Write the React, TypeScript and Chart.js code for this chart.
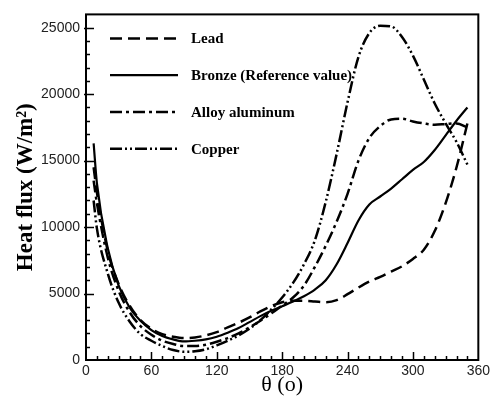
import React, { useEffect, useRef } from 'react';
import { Chart, registerables } from 'chart.js';

Chart.register(...registerables);

const theta = [7, 10, 20, 30, 40, 50, 60, 70, 80, 90, 100, 110, 120, 130, 140, 150, 160, 170, 180, 190, 200, 210, 220, 230, 240, 250, 260, 270, 280, 290, 300, 310, 320, 330, 340, 350];

const lead = [14500, 12600, 8200, 5700, 4100, 3000, 2350, 1950, 1750, 1650, 1700, 1850, 2100, 2450, 2800, 3200, 3650, 4050, 4350, 4450, 4450, 4400, 4350, 4500, 4950, 5450, 5900, 6250, 6650, 7050, 7600, 8300, 9700, 11800, 14500, 17800];

const bronze = [16300, 13300, 8400, 5600, 3950, 2950, 2250, 1800, 1550, 1400, 1450, 1550, 1750, 2050, 2400, 2850, 3300, 3700, 4050, 4400, 4800, 5300, 6000, 7200, 8800, 10500, 11700, 12300, 12900, 13600, 14300, 14900, 15800, 16900, 18000, 19000];

const alloy = [13500, 11800, 7700, 5200, 3600, 2550, 1900, 1450, 1200, 1050, 1050, 1150, 1370, 1650, 2000, 2450, 2950, 3500, 4100, 4700, 5600, 7000, 8600, 10400, 12500, 15000, 16700, 17600, 18100, 18150, 17950, 17800, 17700, 17750, 17800, 17500];

const copper = [12000, 9900, 6500, 4300, 2900, 1950, 1450, 1050, 750, 620, 650, 800, 1100, 1450, 1850, 2350, 3000, 3800, 4700, 5800, 7200, 9000, 11900, 15500, 19400, 22800, 24600, 25150, 25100, 24300, 22900, 21100, 19300, 17800, 16400, 14700];

const seriesLabels = ['Lead', 'Bronze (Reference value)', 'Alloy aluminum', 'Copper'];
const xLabelStep = 60;
const yLabelStep = 5000;

const toPoints = (ys: number[]) => ys.map((y, i) => ({ x: theta[i], y }));

const framePlugin = {
  id: 'frameTicks',
  afterDatasetsDraw(chart: any) {
    const { ctx, chartArea: a, scales } = chart;
    ctx.save();
    ctx.strokeStyle = '#000';
    ctx.lineWidth = 1.5;
    const xs = scales.x;
    xs.ticks.forEach((t: any) => {
      const v = t.value;
      if (v <= xs.min || v >= xs.max) return;
      const px = Math.round(xs.getPixelForValue(v)) + 0.5;
      const len = v % xLabelStep === 0 ? 8 : 4;
      ctx.beginPath();
      ctx.moveTo(px, a.bottom);
      ctx.lineTo(px, a.bottom - len);
      ctx.stroke();
    });
    const ys = scales.y;
    ys.ticks.forEach((t: any) => {
      const v = t.value;
      if (v <= ys.min || v >= ys.max) return;
      const py = Math.round(ys.getPixelForValue(v)) + 0.5;
      const major = v % yLabelStep === 0;
      const len = major ? 8 : 4;
      ctx.beginPath();
      ctx.moveTo(a.left - (major ? 2 : 0), py);
      ctx.lineTo(a.left + len, py);
      ctx.stroke();
    });
    ctx.lineWidth = 2;
    ctx.strokeRect(a.left, a.top, a.right - a.left, a.bottom - a.top);
    ctx.restore();
  },
};

const legendPlugin = {
  id: 'insideLegend',
  afterDatasetsDraw(chart: any) {
    const { ctx, chartArea: a } = chart;
    ctx.save();
    chart.data.datasets.forEach((ds: any, i: number) => {
      const y = a.top + 24 + i * 36.8;
      ctx.strokeStyle = '#000';
      ctx.lineWidth = ds.borderWidth;
      ctx.setLineDash(ds.borderDash || []);
      ctx.beginPath();
      ctx.moveTo(a.left + 24, y);
      ctx.lineTo(a.left + 92, y);
      ctx.stroke();
      ctx.setLineDash([]);
      ctx.fillStyle = '#000';
      ctx.font = 'bold 15px "Liberation Serif", "Times New Roman", serif';
      ctx.textBaseline = 'middle';
      ctx.textAlign = 'left';
      ctx.fillText(ds.label, a.left + 105, y + 1);
    });
    ctx.restore();
  },
};

export default function App() {
  const ref = useRef<HTMLCanvasElement | null>(null);

  useEffect(() => {
    if (!ref.current) return;
    const common = {
      borderColor: '#000',
      backgroundColor: '#000',
      pointRadius: 0,
      fill: false,
      cubicInterpolationMode: 'monotone' as const,
    };
    const chart = new Chart(ref.current, {
      type: 'line',
      data: {
        datasets: [
          { ...common, label: seriesLabels[0], data: toPoints(lead), borderWidth: 2.5, borderDash: [12, 6] },
          { ...common, label: seriesLabels[1], data: toPoints(bronze), borderWidth: 2.2 },
          { ...common, label: seriesLabels[2], data: toPoints(alloy), borderWidth: 2.5, borderDash: [12, 4, 3, 4] },
          { ...common, label: seriesLabels[3], data: toPoints(copper), borderWidth: 2.5, borderDash: [12, 3, 2, 3, 2, 3] },
        ],
      },
      options: {
        responsive: false,
        animation: false,
        layout: { padding: { top: 13, right: 11, left: 0, bottom: 0 } },
        plugins: {
          legend: { display: false },
          tooltip: { enabled: false },
        },
        scales: {
          x: {
            type: 'linear',
            min: 0,
            max: 360,
            afterFit: (s: any) => { s.height = 36; },
            ticks: {
              stepSize: 10,
              autoSkip: false,
              maxRotation: 0,
              padding: 3,
              color: '#222',
              font: { family: '"Liberation Sans", Arial, sans-serif', size: 14 },
              callback: (v: any) => (Number(v) % xLabelStep === 0 ? String(v) : ''),
            },
            grid: { display: false, drawTicks: false },
            border: { display: false },
            title: {
              display: true,
              text: 'θ (o)',
              color: '#000',
              font: { family: '"Liberation Serif", "Times New Roman", serif', size: 22, lineHeight: 1 },
              padding: { top: 0, bottom: 0 },
            },
          },
          y: {
            type: 'linear',
            min: 0,
            max: 26000,
            afterFit: (s: any) => { s.width = 86; },
            ticks: {
              stepSize: 1000,
              autoSkip: false,
              padding: 6,
              color: '#222',
              font: { family: '"Liberation Sans", Arial, sans-serif', size: 14 },
              callback: (v: any) => (Number(v) % yLabelStep === 0 ? String(v) : ''),
            },
            grid: { display: false, drawTicks: false },
            border: { display: false },
            title: {
              display: true,
              text: 'Heat flux (W/m²)',
              color: '#000',
              font: { family: '"Liberation Serif", "Times New Roman", serif', size: 23, weight: 'bold', lineHeight: 1 },
              padding: { top: 15, bottom: 0 },
            },
          },
        },
      },
      plugins: [framePlugin, legendPlugin],
    });
    return () => chart.destroy();
  }, []);

  return (
    <div style={{ position: 'absolute', left: 0, top: 0, width: 493, height: 396, background: '#fff' }}>
      <canvas ref={ref} width={493} height={396} />
    </div>
  );
}
